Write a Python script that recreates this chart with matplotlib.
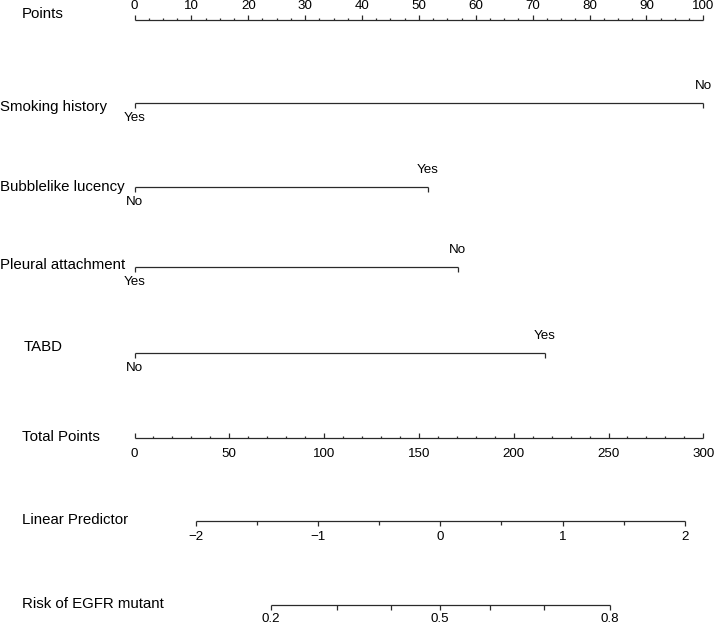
import numpy as np
import matplotlib
matplotlib.use("Agg")
import matplotlib.pyplot as plt

plt.rcParams['font.family'] = ['Liberation Sans', 'DejaVu Sans']

# ---------------- data ----------------
variables = ["Smoking history", "Bubblelike lucency", "Pleural attachment", "TABD"]
level_low = ["Yes", "No", "Yes", "No"]        # level at 0 points
level_high = ["No", "Yes", "No", "Yes"]       # level at max points
points_high = [100.0, 51.6, 56.8, 72.1]

points_ticks = list(range(0, 101, 10))
total_ticks = list(range(0, 301, 50))
lp_ticks = [-2, -1, 0, 1, 2]
risk_ticks = [0.2, 0.5, 0.8]
risk_minor = [0.2, 0.3, 0.4, 0.5, 0.6, 0.7, 0.8]

lp_intercept = -2.5004
lp_slope = 0.015505     # per total point
total_max = 300.0

# ---------------- layout ----------------
W, H = 714, 625
fig = plt.figure(figsize=(W / 100, H / 100), dpi=100)
ax = fig.add_axes([0, 0, 1, 1])
x0_px, x100_px = 134.5, 703.3
ppx = (x100_px - x0_px) / 100.0
ax.set_xlim(-x0_px / ppx, (W - x0_px) / ppx)
ax.set_ylim(H, 0)
ax.axis('off')

lc = '#2a2a2a'
lw = 0.9
tfs = 9.6
lfs = 10.8

def hline(x1, x2, y):
    ax.plot([x1, x2], [y, y], color=lc, lw=lw, solid_capstyle='butt')

def vtick(x, y, L):
    ax.plot([x, x], [y, y + L], color=lc, lw=lw, solid_capstyle='butt')

def left_label(txt, xpx, y):
    ax.text((xpx - x0_px) / ppx, y, txt, fontsize=lfs, ha='left', va='center', color='black')

# Points axis
y = 20
hline(0, 100, y)
for v in np.arange(0, 100.01, 2.5):
    vtick(v, y, -5 if abs(v % 10) < 1e-9 else -2.5)
for v in points_ticks:
    ax.text(v, 6, str(v), fontsize=tfs, ha='center', va='center')
left_label("Points", 22, 14)

# Variables
var_y = [103, 187, 267.3, 353.3]
lab_y = [107, 187, 265, 347]
lab_x = [0, 0, 0, 24]
for name, lo, hi, ph, yy, ly, lx in zip(variables, level_low, level_high, points_high, var_y, lab_y, lab_x):
    hline(0, ph, yy)
    vtick(0, yy, 5)
    vtick(ph, yy, 5)
    ax.text(ph, yy - 17, hi, fontsize=tfs, ha='center', va='center')
    ax.text(0, yy + 15, lo, fontsize=tfs, ha='center', va='center')
    left_label(name, lx, ly)

# Total points axis (mapped onto 0-100 points scale)
def tp2x(tp):
    return tp / total_max * 100.0

y = 438
hline(tp2x(0), tp2x(300), y)
for v in range(0, 301, 10):
    vtick(tp2x(v), y, -5 if v % 50 == 0 else -2.5)
for v in total_ticks:
    ax.text(tp2x(v), 454, str(v), fontsize=tfs, ha='center', va='center')
left_label("Total Points", 22, 437)

# Linear predictor
def lp2x(lp):
    return tp2x((lp - lp_intercept) / lp_slope)

y = 521
hline(lp2x(-2), lp2x(2), y)
for v in np.arange(-2, 2.01, 0.5):
    vtick(lp2x(v), y, 5 if abs(v - round(v)) < 1e-9 else 3.5)
for v in lp_ticks:
    s = str(v).replace('-', '\u2212')
    ax.text(lp2x(v), 537, s, fontsize=tfs, ha='center', va='center')
left_label("Linear Predictor", 22, 520)

# Risk
def risk2x(p):
    return lp2x(np.log(p / (1 - p)))

y = 605
hline(risk2x(0.2), risk2x(0.8), y)
for v in risk_minor:
    vtick(risk2x(v), y, 5)
for v in risk_ticks:
    ax.text(risk2x(v), 618.5, str(v), fontsize=tfs, ha='center', va='center')
left_label("Risk of EGFR mutant", 22, 604)

fig.savefig("out.png", dpi=100, facecolor='white')
